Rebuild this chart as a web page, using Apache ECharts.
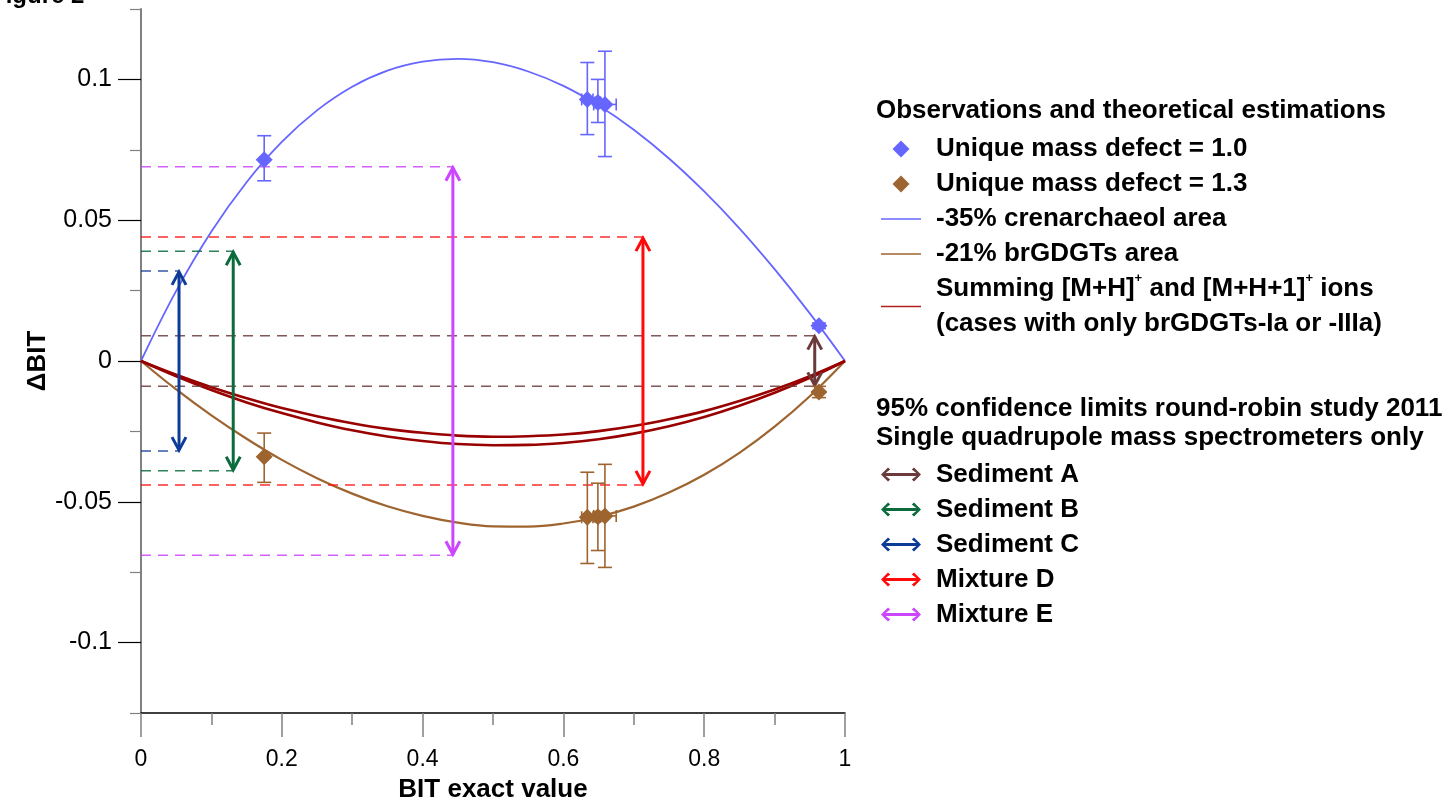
<!DOCTYPE html>
<html>
<head>
<meta charset="utf-8">
<script src="https://cdn.jsdelivr.net/npm/echarts@6/dist/echarts.min.js"></script>
<style>
  html, body { margin: 0; padding: 0; background: #fff; }
  #chart { width: 1447px; height: 800px; }
</style>
</head>
<body>
<div id="chart"></div>
<script>
// theoretical curves, read at every 0.05 of BIT
const bitGrid = [0, 0.05, 0.1, 0.15, 0.2, 0.25, 0.3, 0.35, 0.4, 0.45, 0.5, 0.55, 0.6, 0.65, 0.7, 0.75, 0.8, 0.85, 0.9, 0.95, 1]
const crenCurve = [0, 0.0249, 0.0460, 0.0635, 0.0778, 0.0890, 0.0974, 0.1031, 0.1063, 0.1073, 0.1061, 0.1028, 0.0977, 0.0907, 0.0821, 0.0719, 0.0602, 0.0471, 0.0326, 0.0169, 0]
const brCurve = [0, -0.0101, -0.0193, -0.0276, -0.0351, -0.0416, -0.0471, -0.0516, -0.0550, -0.0574, -0.0587, -0.0588, -0.0577, -0.0553, -0.0517, -0.0467, -0.0404, -0.0326, -0.0233, -0.0125, 0]
const sumCurveLow = [0, -0.0054, -0.0103, -0.0147, -0.0185, -0.0218, -0.0246, -0.0268, -0.0284, -0.0295, -0.0299, -0.0298, -0.0291, -0.0278, -0.0258, -0.0232, -0.0199, -0.0159, -0.0113, -0.0060, 0]
const sumCurveHigh = [0, -0.0049, -0.0093, -0.0132, -0.0167, -0.0196, -0.0221, -0.0241, -0.0255, -0.0265, -0.0269, -0.0267, -0.0261, -0.0249, -0.0231, -0.0207, -0.0178, -0.0142, -0.0101, -0.0054, 0]

// observations (x, y, low, high, x error)
const obsX = [0.175, 0.634, 0.649, 0.659, 0.963]
const md10Y = [0.0715, 0.0929, 0.0918, 0.0911, 0.0125]
const md10Lo = [0.064, 0.0804, 0.0847, 0.0726, 0.0115]
const md10Hi = [0.080, 0.106, 0.100, 0.110, 0.0135]
const md10XErr = [0, 0.008, 0.004, 0.016, 0]
const md13Y = [-0.034, -0.0555, -0.0553, -0.055, -0.011]
const md13Lo = [-0.0431, -0.0719, -0.0673, -0.0733, -0.013]
const md13Hi = [-0.0256, -0.0395, -0.0434, -0.0367, -0.009]
const md13XErr = [0, 0.008, 0.004, 0.016, 0]

// 95% confidence limits (position on BIT axis, half width)
const limitNames = ['Sediment A', 'Sediment B', 'Sediment C', 'Mixture D', 'Mixture E']
const limitX = [0.957, 0.131, 0.054, 0.713, 0.443]
const limitHalf = [0.009, 0.039, 0.032, 0.044, 0.069]

const yMajor = [-0.1, -0.05, 0, 0.05, 0.1]
const yMinor = [-0.125, -0.075, -0.025, 0.025, 0.075, 0.125]
const xMajor = [0, 0.2, 0.4, 0.6, 0.8, 1]
const xMinor = [0.1, 0.3, 0.5, 0.7, 0.9]

const limitColors = ['#6b3a3a', '#0b6b3c', '#0d3b98', '#ff0a0a', '#cc45ff']
const blue = '#6666ff'
const brown = '#9e6430'
const darkRed = '#990000'

const diamondIcon = 'path://M0,-1L1,0L0,1L-1,0Z'
const lineIcon = 'path://M0,0L40,0L40,1.6L0,1.6Z'
const arrowIcon = 'path://M0,7L7,0L9.2,2L4.7,5.5L35.3,5.5L30.8,2L33,0L40,7L33,14L30.8,12L35.3,8.5L4.7,8.5L9.2,12L7,14Z'

const fontFamily = '"Liberation Sans", Arial, sans-serif'

function pairs(xs, ys) {
    return xs.map((x, i) => [x, ys[i]])
}

function obsData(ys, lo, hi, xe) {
    return obsX.map((x, i) => [x, ys[i], lo[i], hi[i], xe[i]])
}

function renderObs(params, api) {
    const c = api.visual('color')
    const x = api.value(0)
    const p = api.coord([x, api.value(1)])
    const lo = api.coord([x, api.value(2)])
    const hi = api.coord([x, api.value(3)])
    const xe = api.value(4)
    const st = { stroke: c, lineWidth: 1.6 }
    const kids = [
        { type: 'line', shape: { x1: p[0], y1: lo[1], x2: p[0], y2: hi[1] }, style: st },
        { type: 'line', shape: { x1: p[0] - 7, y1: lo[1], x2: p[0] + 7, y2: lo[1] }, style: st },
        { type: 'line', shape: { x1: p[0] - 7, y1: hi[1], x2: p[0] + 7, y2: hi[1] }, style: st }
    ]
    if (xe > 0) {
        const l = api.coord([x - xe, api.value(1)])
        const r = api.coord([x + xe, api.value(1)])
        kids.push(
            { type: 'line', shape: { x1: l[0], y1: p[1], x2: r[0], y2: p[1] }, style: st },
            { type: 'line', shape: { x1: l[0], y1: p[1] - 6, x2: l[0], y2: p[1] + 6 }, style: st },
            { type: 'line', shape: { x1: r[0], y1: p[1] - 6, x2: r[0], y2: p[1] + 6 }, style: st }
        )
    }
    const s = 8.5
    kids.push({
        type: 'polygon',
        shape: { points: [[p[0], p[1] - s], [p[0] + s, p[1]], [p[0], p[1] + s], [p[0] - s, p[1]]] },
        style: { fill: c }
    })
    return { type: 'group', children: kids }
}

function renderLimit(params, api) {
    const c = api.visual('color')
    const x = api.value(0)
    const h = api.value(1)
    const top = api.coord([x, h])
    const bot = api.coord([x, -h])
    const x0 = api.coord([0, h])[0]
    const dash = { stroke: c, lineWidth: 1.5, lineDash: [10, 7], opacity: 0.85 }
    const st = { stroke: c, lineWidth: 3, fill: null }
    return {
        type: 'group',
        children: [
            { type: 'line', shape: { x1: x0, y1: top[1], x2: top[0], y2: top[1] }, style: dash },
            { type: 'line', shape: { x1: x0, y1: bot[1], x2: bot[0], y2: bot[1] }, style: dash },
            { type: 'line', shape: { x1: top[0], y1: top[1] + 1, x2: bot[0], y2: bot[1] - 1 }, style: st },
            { type: 'polyline', shape: { points: [[top[0] - 7, top[1] + 14], [top[0], top[1] + 1], [top[0] + 7, top[1] + 14]] }, style: st },
            { type: 'polyline', shape: { points: [[bot[0] - 7, bot[1] - 14], [bot[0], bot[1] - 1], [bot[0] + 7, bot[1] - 14]] }, style: st }
        ]
    }
}

const chart = echarts.init(document.getElementById('chart'))

const lineSeries = (name, ys, color, width) => ({
    name: name,
    type: 'line',
    data: pairs(bitGrid, ys),
    smooth: 0.4,
    symbol: 'none',
    z: 3,
    itemStyle: { color: color },
    lineStyle: { color: color, width: width }
})

const sumName = 'Summing [M+H]+ and [M+H+1]+ ions'

const limitSeries = limitNames.map((name, i) => ({
    name: name,
    type: 'custom',
    renderItem: renderLimit,
    data: [[limitX[i], limitHalf[i]]],
    itemStyle: { color: limitColors[i] },
    z: 4,
    silent: true
}))

const legendText = {
    fontFamily: fontFamily,
    fontSize: 26,
    fontWeight: 'bold',
    color: '#000',
    lineHeight: 35,
    padding: [0, 0, 0, 10],
    rich: {
        sup: { fontSize: 13, fontWeight: 'bold', fontFamily: fontFamily, verticalAlign: 'top', lineHeight: 35, padding: [0, 0, 12, 0] }
    }
}

const headerFont = 'bold 26px ' + fontFamily

const option = {
    backgroundColor: '#fff',
    animation: false,
    textStyle: { fontFamily: fontFamily },
    grid: { left: 141, top: 9, width: 704, height: 704, containLabel: false, outerBoundsMode: 'none' },
    graphic: [
        { type: 'text', left: -9, top: -16, style: { text: 'Figure 2', font: 'bold 24px ' + fontFamily, fill: '#000' } },
        { type: 'text', left: 876, top: 98, style: { text: 'Observations and theoretical estimations', font: headerFont, fill: '#000' } },
        { type: 'text', left: 876, top: 396, style: { text: '95% confidence limits round-robin study 2011', font: headerFont, fill: '#000' } },
        { type: 'text', left: 876, top: 425, style: { text: 'Single quadrupole mass spectrometers only', font: headerFont, fill: '#000' } }
    ],
    legend: [
        {
            orient: 'vertical',
            left: 876,
            top: 126.5,
            itemGap: 0,
            itemWidth: 40,
            itemHeight: 17,
            textStyle: legendText,
            formatter: function (name) {
                if (name === sumName) {
                    return 'Summing [M+H]{sup|+} and [M+H+1]{sup|+} ions\n(cases with only brGDGTs-Ia or -IIIa)'
                }
                return name
            },
            data: [
                { name: 'Unique mass defect = 1.0', icon: diamondIcon, itemStyle: { color: blue } },
                { name: 'Unique mass defect = 1.3', icon: diamondIcon, itemStyle: { color: brown } },
                { name: '-35% crenarchaeol area', icon: lineIcon, itemStyle: { color: blue } },
                { name: '-21% brGDGTs area', icon: lineIcon, itemStyle: { color: brown } },
                { name: sumName, icon: lineIcon, itemStyle: { color: '#b02020' } }
            ]
        },
        {
            orient: 'vertical',
            left: 876,
            top: 452,
            itemGap: 0,
            itemWidth: 40,
            itemHeight: 15,
            textStyle: legendText,
            data: limitNames.map((n, i) => ({ name: n, icon: arrowIcon, itemStyle: { color: limitColors[i] } }))
        }
    ],
    xAxis: [
        {
            type: 'value',
            min: 0,
            max: 1,
            position: 'bottom',
            name: 'BIT exact value',
            nameLocation: 'middle',
            nameGap: 64,
            nameTextStyle: { fontFamily: fontFamily, fontSize: 26, fontWeight: 'bold', color: '#000' },
            axisLine: { show: true, onZero: false, lineStyle: { color: '#000', width: 1.5 } },
            axisTick: { show: true, customValues: xMajor, length: 24, lineStyle: { color: '#808080', width: 1.5 } },
            axisLabel: {
                customValues: xMajor,
                margin: 35,
                fontFamily: fontFamily,
                fontSize: 23,
                color: '#000',
                formatter: v => String(v)
            },
            splitLine: { show: false }
        },
        {
            type: 'value',
            min: 0,
            max: 1,
            position: 'bottom',
            axisLine: { show: false, onZero: false },
            axisTick: { show: true, customValues: xMinor, length: 12, lineStyle: { color: '#808080', width: 1.5 } },
            axisLabel: { show: false },
            splitLine: { show: false }
        }
    ],
    yAxis: [
        {
            type: 'value',
            min: -0.125,
            max: 0.125,
            position: 'left',
            name: 'ΔBIT',
            nameLocation: 'middle',
            nameGap: 88,
            nameTextStyle: { fontFamily: fontFamily, fontSize: 26, fontWeight: 'bold', color: '#000' },
            axisLine: { show: true, onZero: false, lineStyle: { color: '#808080', width: 2 } },
            axisTick: { show: true, customValues: yMajor, length: 23, lineStyle: { color: '#000', width: 1.2 } },
            axisLabel: {
                customValues: yMajor,
                margin: 29,
                fontFamily: fontFamily,
                fontSize: 25,
                color: '#000',
                formatter: v => String(Math.round(v * 1000) / 1000)
            },
            splitLine: { show: false }
        },
        {
            type: 'value',
            min: -0.125,
            max: 0.125,
            position: 'left',
            axisLine: { show: false, onZero: false },
            axisTick: { show: true, customValues: yMinor, length: 11, lineStyle: { color: '#808080', width: 1.2 } },
            axisLabel: { show: false },
            splitLine: { show: false }
        }
    ],
    series: [
        lineSeries('-35% crenarchaeol area', crenCurve, blue, 1.8),
        lineSeries('-21% brGDGTs area', brCurve, brown, 2.2),
        lineSeries(sumName, sumCurveLow, darkRed, 2.6),
        lineSeries(sumName, sumCurveHigh, darkRed, 2.6),
        {
            name: 'Unique mass defect = 1.0',
            type: 'custom',
            renderItem: renderObs,
            data: obsData(md10Y, md10Lo, md10Hi, md10XErr),
            itemStyle: { color: blue },
            z: 5
        },
        {
            name: 'Unique mass defect = 1.3',
            type: 'custom',
            renderItem: renderObs,
            data: obsData(md13Y, md13Lo, md13Hi, md13XErr),
            itemStyle: { color: brown },
            z: 5
        }
    ].concat(limitSeries)
}

chart.setOption(option)
</script>
</body>
</html>
